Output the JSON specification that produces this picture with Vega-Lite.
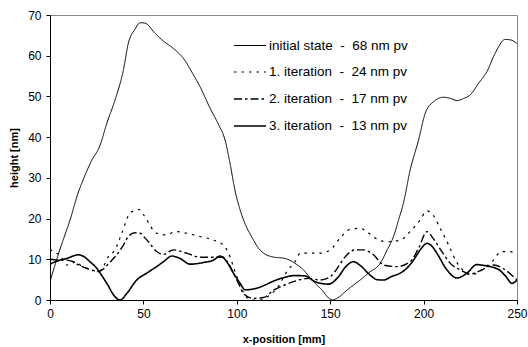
{
  "$schema": "https://vega.github.io/schema/vega-lite/v6.json",
  "width": 467,
  "height": 285,
  "autosize": {"type": "none"},
  "padding": {"left": 50, "top": 15, "right": 11, "bottom": 47},
  "background": "white",
  "config": {
    "font": "Liberation Sans",
    "view": {"stroke": "#888888", "strokeWidth": 1},
    "axis": {"grid": false, "domainColor": "black", "tickColor": "black", "labelColor": "black", "titleColor": "black", "labelFont": "Liberation Sans", "titleFont": "Liberation Sans", "labelFontSize": 12, "titleFontSize": 11, "titleFontWeight": "bold"}
  },
  "datasets": {
    "pts": [
      {"s": "initial state \u00a0-\u00a0 68 nm pv", "x": 0, "y": 4.5},
      {"s": "initial state \u00a0-\u00a0 68 nm pv", "x": 5, "y": 12},
      {"s": "initial state \u00a0-\u00a0 68 nm pv", "x": 10.7, "y": 19.6},
      {"s": "initial state \u00a0-\u00a0 68 nm pv", "x": 15.2, "y": 26.5},
      {"s": "initial state \u00a0-\u00a0 68 nm pv", "x": 18, "y": 29.8},
      {"s": "initial state \u00a0-\u00a0 68 nm pv", "x": 22, "y": 34},
      {"s": "initial state \u00a0-\u00a0 68 nm pv", "x": 26.8, "y": 38},
      {"s": "initial state \u00a0-\u00a0 68 nm pv", "x": 30.4, "y": 43.4},
      {"s": "initial state \u00a0-\u00a0 68 nm pv", "x": 34.8, "y": 49.1},
      {"s": "initial state \u00a0-\u00a0 68 nm pv", "x": 39.3, "y": 56.5},
      {"s": "initial state \u00a0-\u00a0 68 nm pv", "x": 41.9, "y": 63},
      {"s": "initial state \u00a0-\u00a0 68 nm pv", "x": 45.5, "y": 66.5},
      {"s": "initial state \u00a0-\u00a0 68 nm pv", "x": 48.2, "y": 68.1},
      {"s": "initial state \u00a0-\u00a0 68 nm pv", "x": 50.9, "y": 68},
      {"s": "initial state \u00a0-\u00a0 68 nm pv", "x": 56.2, "y": 65.5},
      {"s": "initial state \u00a0-\u00a0 68 nm pv", "x": 60.7, "y": 63.6},
      {"s": "initial state \u00a0-\u00a0 68 nm pv", "x": 66, "y": 61.8},
      {"s": "initial state \u00a0-\u00a0 68 nm pv", "x": 72.3, "y": 58.8},
      {"s": "initial state \u00a0-\u00a0 68 nm pv", "x": 75.9, "y": 56},
      {"s": "initial state \u00a0-\u00a0 68 nm pv", "x": 80.3, "y": 52.4},
      {"s": "initial state \u00a0-\u00a0 68 nm pv", "x": 85.7, "y": 47.1},
      {"s": "initial state \u00a0-\u00a0 68 nm pv", "x": 90.1, "y": 43.2},
      {"s": "initial state \u00a0-\u00a0 68 nm pv", "x": 93.7, "y": 39.3},
      {"s": "initial state \u00a0-\u00a0 68 nm pv", "x": 96.6, "y": 33},
      {"s": "initial state \u00a0-\u00a0 68 nm pv", "x": 99, "y": 27},
      {"s": "initial state \u00a0-\u00a0 68 nm pv", "x": 101.8, "y": 22.1},
      {"s": "initial state \u00a0-\u00a0 68 nm pv", "x": 104.6, "y": 18.5},
      {"s": "initial state \u00a0-\u00a0 68 nm pv", "x": 108, "y": 15.5},
      {"s": "initial state \u00a0-\u00a0 68 nm pv", "x": 111.5, "y": 12.8},
      {"s": "initial state \u00a0-\u00a0 68 nm pv", "x": 115, "y": 11.3},
      {"s": "initial state \u00a0-\u00a0 68 nm pv", "x": 119, "y": 10.6},
      {"s": "initial state \u00a0-\u00a0 68 nm pv", "x": 125.9, "y": 10.2},
      {"s": "initial state \u00a0-\u00a0 68 nm pv", "x": 131.2, "y": 9},
      {"s": "initial state \u00a0-\u00a0 68 nm pv", "x": 135.7, "y": 7.4},
      {"s": "initial state \u00a0-\u00a0 68 nm pv", "x": 140.2, "y": 4.9},
      {"s": "initial state \u00a0-\u00a0 68 nm pv", "x": 145.5, "y": 2.5},
      {"s": "initial state \u00a0-\u00a0 68 nm pv", "x": 150, "y": 0.2},
      {"s": "initial state \u00a0-\u00a0 68 nm pv", "x": 151.5, "y": 0},
      {"s": "initial state \u00a0-\u00a0 68 nm pv", "x": 153.5, "y": 0.4},
      {"s": "initial state \u00a0-\u00a0 68 nm pv", "x": 160, "y": 2.8},
      {"s": "initial state \u00a0-\u00a0 68 nm pv", "x": 166, "y": 4.9},
      {"s": "initial state \u00a0-\u00a0 68 nm pv", "x": 171, "y": 6.8},
      {"s": "initial state \u00a0-\u00a0 68 nm pv", "x": 176.8, "y": 9},
      {"s": "initial state \u00a0-\u00a0 68 nm pv", "x": 180.5, "y": 12.3},
      {"s": "initial state \u00a0-\u00a0 68 nm pv", "x": 183.9, "y": 15.6},
      {"s": "initial state \u00a0-\u00a0 68 nm pv", "x": 186.5, "y": 19.5},
      {"s": "initial state \u00a0-\u00a0 68 nm pv", "x": 189.2, "y": 23.8},
      {"s": "initial state \u00a0-\u00a0 68 nm pv", "x": 192.8, "y": 31.9},
      {"s": "initial state \u00a0-\u00a0 68 nm pv", "x": 197.3, "y": 39.3},
      {"s": "initial state \u00a0-\u00a0 68 nm pv", "x": 200.9, "y": 45.9},
      {"s": "initial state \u00a0-\u00a0 68 nm pv", "x": 205.3, "y": 48.7},
      {"s": "initial state \u00a0-\u00a0 68 nm pv", "x": 210.7, "y": 49.8},
      {"s": "initial state \u00a0-\u00a0 68 nm pv", "x": 214.5, "y": 49.5},
      {"s": "initial state \u00a0-\u00a0 68 nm pv", "x": 217.8, "y": 49},
      {"s": "initial state \u00a0-\u00a0 68 nm pv", "x": 221.5, "y": 49.5},
      {"s": "initial state \u00a0-\u00a0 68 nm pv", "x": 225, "y": 50.4},
      {"s": "initial state \u00a0-\u00a0 68 nm pv", "x": 229.4, "y": 53.2},
      {"s": "initial state \u00a0-\u00a0 68 nm pv", "x": 233.9, "y": 56.1},
      {"s": "initial state \u00a0-\u00a0 68 nm pv", "x": 238.3, "y": 60.6},
      {"s": "initial state \u00a0-\u00a0 68 nm pv", "x": 243.7, "y": 64},
      {"s": "initial state \u00a0-\u00a0 68 nm pv", "x": 246.4, "y": 63.9},
      {"s": "initial state \u00a0-\u00a0 68 nm pv", "x": 250, "y": 63},

      {"s": "1. iteration \u00a0-\u00a0 24 nm pv", "x": 0, "y": 12.4},
      {"s": "1. iteration \u00a0-\u00a0 24 nm pv", "x": 3, "y": 11.6},
      {"s": "1. iteration \u00a0-\u00a0 24 nm pv", "x": 5.4, "y": 11},
      {"s": "1. iteration \u00a0-\u00a0 24 nm pv", "x": 9, "y": 8.6},
      {"s": "1. iteration \u00a0-\u00a0 24 nm pv", "x": 14.3, "y": 9.4},
      {"s": "1. iteration \u00a0-\u00a0 24 nm pv", "x": 17, "y": 8.2},
      {"s": "1. iteration \u00a0-\u00a0 24 nm pv", "x": 22.3, "y": 7.4},
      {"s": "1. iteration \u00a0-\u00a0 24 nm pv", "x": 26, "y": 7},
      {"s": "1. iteration \u00a0-\u00a0 24 nm pv", "x": 28.6, "y": 8.2},
      {"s": "1. iteration \u00a0-\u00a0 24 nm pv", "x": 31.2, "y": 10.6},
      {"s": "1. iteration \u00a0-\u00a0 24 nm pv", "x": 34.8, "y": 12.3},
      {"s": "1. iteration \u00a0-\u00a0 24 nm pv", "x": 38.4, "y": 16.4},
      {"s": "1. iteration \u00a0-\u00a0 24 nm pv", "x": 42.8, "y": 21.3},
      {"s": "1. iteration \u00a0-\u00a0 24 nm pv", "x": 46.4, "y": 22.1},
      {"s": "1. iteration \u00a0-\u00a0 24 nm pv", "x": 48, "y": 22.2},
      {"s": "1. iteration \u00a0-\u00a0 24 nm pv", "x": 50, "y": 21},
      {"s": "1. iteration \u00a0-\u00a0 24 nm pv", "x": 51.8, "y": 19.7},
      {"s": "1. iteration \u00a0-\u00a0 24 nm pv", "x": 57.1, "y": 16.4},
      {"s": "1. iteration \u00a0-\u00a0 24 nm pv", "x": 62.5, "y": 16},
      {"s": "1. iteration \u00a0-\u00a0 24 nm pv", "x": 67, "y": 16.8},
      {"s": "1. iteration \u00a0-\u00a0 24 nm pv", "x": 73.2, "y": 16.4},
      {"s": "1. iteration \u00a0-\u00a0 24 nm pv", "x": 80.3, "y": 15.6},
      {"s": "1. iteration \u00a0-\u00a0 24 nm pv", "x": 87.5, "y": 14.7},
      {"s": "1. iteration \u00a0-\u00a0 24 nm pv", "x": 92.8, "y": 13.5},
      {"s": "1. iteration \u00a0-\u00a0 24 nm pv", "x": 96.4, "y": 10.6},
      {"s": "1. iteration \u00a0-\u00a0 24 nm pv", "x": 99, "y": 7},
      {"s": "1. iteration \u00a0-\u00a0 24 nm pv", "x": 101.8, "y": 3.7},
      {"s": "1. iteration \u00a0-\u00a0 24 nm pv", "x": 105.4, "y": 0.6},
      {"s": "1. iteration \u00a0-\u00a0 24 nm pv", "x": 108.5, "y": 0},
      {"s": "1. iteration \u00a0-\u00a0 24 nm pv", "x": 112.5, "y": 0},
      {"s": "1. iteration \u00a0-\u00a0 24 nm pv", "x": 117, "y": 1},
      {"s": "1. iteration \u00a0-\u00a0 24 nm pv", "x": 122, "y": 3.2},
      {"s": "1. iteration \u00a0-\u00a0 24 nm pv", "x": 126.8, "y": 7},
      {"s": "1. iteration \u00a0-\u00a0 24 nm pv", "x": 131.2, "y": 9.4},
      {"s": "1. iteration \u00a0-\u00a0 24 nm pv", "x": 134, "y": 11.5},
      {"s": "1. iteration \u00a0-\u00a0 24 nm pv", "x": 139.5, "y": 11.5},
      {"s": "1. iteration \u00a0-\u00a0 24 nm pv", "x": 144.6, "y": 11.5},
      {"s": "1. iteration \u00a0-\u00a0 24 nm pv", "x": 150, "y": 12.3},
      {"s": "1. iteration \u00a0-\u00a0 24 nm pv", "x": 155.3, "y": 15.2},
      {"s": "1. iteration \u00a0-\u00a0 24 nm pv", "x": 160.7, "y": 17.4},
      {"s": "1. iteration \u00a0-\u00a0 24 nm pv", "x": 166, "y": 17.6},
      {"s": "1. iteration \u00a0-\u00a0 24 nm pv", "x": 169.6, "y": 16.8},
      {"s": "1. iteration \u00a0-\u00a0 24 nm pv", "x": 174.1, "y": 15.2},
      {"s": "1. iteration \u00a0-\u00a0 24 nm pv", "x": 180.3, "y": 14.3},
      {"s": "1. iteration \u00a0-\u00a0 24 nm pv", "x": 187.5, "y": 14.7},
      {"s": "1. iteration \u00a0-\u00a0 24 nm pv", "x": 192.8, "y": 16.8},
      {"s": "1. iteration \u00a0-\u00a0 24 nm pv", "x": 198.2, "y": 19.7},
      {"s": "1. iteration \u00a0-\u00a0 24 nm pv", "x": 201.8, "y": 21.9},
      {"s": "1. iteration \u00a0-\u00a0 24 nm pv", "x": 205.3, "y": 20.7},
      {"s": "1. iteration \u00a0-\u00a0 24 nm pv", "x": 208.9, "y": 17.6},
      {"s": "1. iteration \u00a0-\u00a0 24 nm pv", "x": 213.4, "y": 13.5},
      {"s": "1. iteration \u00a0-\u00a0 24 nm pv", "x": 217.3, "y": 9.6},
      {"s": "1. iteration \u00a0-\u00a0 24 nm pv", "x": 221, "y": 7.4},
      {"s": "1. iteration \u00a0-\u00a0 24 nm pv", "x": 225, "y": 6.2},
      {"s": "1. iteration \u00a0-\u00a0 24 nm pv", "x": 229.4, "y": 6.8},
      {"s": "1. iteration \u00a0-\u00a0 24 nm pv", "x": 233, "y": 8},
      {"s": "1. iteration \u00a0-\u00a0 24 nm pv", "x": 237.4, "y": 9.8},
      {"s": "1. iteration \u00a0-\u00a0 24 nm pv", "x": 241.5, "y": 11.9},
      {"s": "1. iteration \u00a0-\u00a0 24 nm pv", "x": 246, "y": 11.9},
      {"s": "1. iteration \u00a0-\u00a0 24 nm pv", "x": 250, "y": 11.1},

      {"s": "2. iteration \u00a0-\u00a0 17 nm pv", "x": 0, "y": 10},
      {"s": "2. iteration \u00a0-\u00a0 17 nm pv", "x": 4, "y": 9.8},
      {"s": "2. iteration \u00a0-\u00a0 17 nm pv", "x": 8, "y": 9.8},
      {"s": "2. iteration \u00a0-\u00a0 17 nm pv", "x": 12, "y": 9.5},
      {"s": "2. iteration \u00a0-\u00a0 17 nm pv", "x": 15.2, "y": 8.6},
      {"s": "2. iteration \u00a0-\u00a0 17 nm pv", "x": 19.6, "y": 7.8},
      {"s": "2. iteration \u00a0-\u00a0 17 nm pv", "x": 23.2, "y": 7.2},
      {"s": "2. iteration \u00a0-\u00a0 17 nm pv", "x": 26, "y": 7},
      {"s": "2. iteration \u00a0-\u00a0 17 nm pv", "x": 28.6, "y": 7.6},
      {"s": "2. iteration \u00a0-\u00a0 17 nm pv", "x": 31.5, "y": 9},
      {"s": "2. iteration \u00a0-\u00a0 17 nm pv", "x": 35.7, "y": 11.1},
      {"s": "2. iteration \u00a0-\u00a0 17 nm pv", "x": 39.3, "y": 13.5},
      {"s": "2. iteration \u00a0-\u00a0 17 nm pv", "x": 41.9, "y": 15.6},
      {"s": "2. iteration \u00a0-\u00a0 17 nm pv", "x": 45.5, "y": 16.5},
      {"s": "2. iteration \u00a0-\u00a0 17 nm pv", "x": 48.2, "y": 16.4},
      {"s": "2. iteration \u00a0-\u00a0 17 nm pv", "x": 50.9, "y": 15.2},
      {"s": "2. iteration \u00a0-\u00a0 17 nm pv", "x": 52.7, "y": 14.3},
      {"s": "2. iteration \u00a0-\u00a0 17 nm pv", "x": 57.1, "y": 11.9},
      {"s": "2. iteration \u00a0-\u00a0 17 nm pv", "x": 60.7, "y": 11.2},
      {"s": "2. iteration \u00a0-\u00a0 17 nm pv", "x": 66, "y": 12.3},
      {"s": "2. iteration \u00a0-\u00a0 17 nm pv", "x": 73.2, "y": 11.5},
      {"s": "2. iteration \u00a0-\u00a0 17 nm pv", "x": 80.3, "y": 10.5},
      {"s": "2. iteration \u00a0-\u00a0 17 nm pv", "x": 87.5, "y": 10.5},
      {"s": "2. iteration \u00a0-\u00a0 17 nm pv", "x": 92.8, "y": 10.5},
      {"s": "2. iteration \u00a0-\u00a0 17 nm pv", "x": 95.5, "y": 9},
      {"s": "2. iteration \u00a0-\u00a0 17 nm pv", "x": 98.2, "y": 6.6},
      {"s": "2. iteration \u00a0-\u00a0 17 nm pv", "x": 101, "y": 4},
      {"s": "2. iteration \u00a0-\u00a0 17 nm pv", "x": 103.5, "y": 1.6},
      {"s": "2. iteration \u00a0-\u00a0 17 nm pv", "x": 108.9, "y": 0.4},
      {"s": "2. iteration \u00a0-\u00a0 17 nm pv", "x": 114.3, "y": 0.6},
      {"s": "2. iteration \u00a0-\u00a0 17 nm pv", "x": 119.6, "y": 2.4},
      {"s": "2. iteration \u00a0-\u00a0 17 nm pv", "x": 123.2, "y": 3.2},
      {"s": "2. iteration \u00a0-\u00a0 17 nm pv", "x": 130.3, "y": 4.5},
      {"s": "2. iteration \u00a0-\u00a0 17 nm pv", "x": 138.4, "y": 5.3},
      {"s": "2. iteration \u00a0-\u00a0 17 nm pv", "x": 144.6, "y": 4.9},
      {"s": "2. iteration \u00a0-\u00a0 17 nm pv", "x": 150, "y": 5.7},
      {"s": "2. iteration \u00a0-\u00a0 17 nm pv", "x": 154.4, "y": 8.2},
      {"s": "2. iteration \u00a0-\u00a0 17 nm pv", "x": 158, "y": 10.6},
      {"s": "2. iteration \u00a0-\u00a0 17 nm pv", "x": 163.4, "y": 12.3},
      {"s": "2. iteration \u00a0-\u00a0 17 nm pv", "x": 167.8, "y": 12.3},
      {"s": "2. iteration \u00a0-\u00a0 17 nm pv", "x": 173.2, "y": 11.1},
      {"s": "2. iteration \u00a0-\u00a0 17 nm pv", "x": 178.5, "y": 8.6},
      {"s": "2. iteration \u00a0-\u00a0 17 nm pv", "x": 185.7, "y": 8.2},
      {"s": "2. iteration \u00a0-\u00a0 17 nm pv", "x": 192.8, "y": 9.4},
      {"s": "2. iteration \u00a0-\u00a0 17 nm pv", "x": 197.3, "y": 12.7},
      {"s": "2. iteration \u00a0-\u00a0 17 nm pv", "x": 201.8, "y": 16.8},
      {"s": "2. iteration \u00a0-\u00a0 17 nm pv", "x": 205.3, "y": 15},
      {"s": "2. iteration \u00a0-\u00a0 17 nm pv", "x": 209.8, "y": 11.9},
      {"s": "2. iteration \u00a0-\u00a0 17 nm pv", "x": 214.3, "y": 9},
      {"s": "2. iteration \u00a0-\u00a0 17 nm pv", "x": 219.6, "y": 7.4},
      {"s": "2. iteration \u00a0-\u00a0 17 nm pv", "x": 225, "y": 6.4},
      {"s": "2. iteration \u00a0-\u00a0 17 nm pv", "x": 230.3, "y": 7.2},
      {"s": "2. iteration \u00a0-\u00a0 17 nm pv", "x": 237.4, "y": 8.6},
      {"s": "2. iteration \u00a0-\u00a0 17 nm pv", "x": 243.7, "y": 7.4},
      {"s": "2. iteration \u00a0-\u00a0 17 nm pv", "x": 248.2, "y": 5.7},
      {"s": "2. iteration \u00a0-\u00a0 17 nm pv", "x": 250, "y": 4.9},

      {"s": "3. iteration \u00a0-\u00a0 13 nm pv", "x": 0, "y": 8.8},
      {"s": "3. iteration \u00a0-\u00a0 13 nm pv", "x": 4, "y": 9.6},
      {"s": "3. iteration \u00a0-\u00a0 13 nm pv", "x": 8.9, "y": 10.2},
      {"s": "3. iteration \u00a0-\u00a0 13 nm pv", "x": 15.2, "y": 11.1},
      {"s": "3. iteration \u00a0-\u00a0 13 nm pv", "x": 18, "y": 10.7},
      {"s": "3. iteration \u00a0-\u00a0 13 nm pv", "x": 21.4, "y": 9.4},
      {"s": "3. iteration \u00a0-\u00a0 13 nm pv", "x": 25, "y": 7.8},
      {"s": "3. iteration \u00a0-\u00a0 13 nm pv", "x": 28, "y": 5.8},
      {"s": "3. iteration \u00a0-\u00a0 13 nm pv", "x": 30.4, "y": 4.1},
      {"s": "3. iteration \u00a0-\u00a0 13 nm pv", "x": 34.8, "y": 0.8},
      {"s": "3. iteration \u00a0-\u00a0 13 nm pv", "x": 37.5, "y": 0},
      {"s": "3. iteration \u00a0-\u00a0 13 nm pv", "x": 41.1, "y": 1.6},
      {"s": "3. iteration \u00a0-\u00a0 13 nm pv", "x": 46.4, "y": 4.9},
      {"s": "3. iteration \u00a0-\u00a0 13 nm pv", "x": 51.8, "y": 6.6},
      {"s": "3. iteration \u00a0-\u00a0 13 nm pv", "x": 57.1, "y": 8.2},
      {"s": "3. iteration \u00a0-\u00a0 13 nm pv", "x": 61, "y": 9.5},
      {"s": "3. iteration \u00a0-\u00a0 13 nm pv", "x": 65.2, "y": 10.8},
      {"s": "3. iteration \u00a0-\u00a0 13 nm pv", "x": 69.6, "y": 10.2},
      {"s": "3. iteration \u00a0-\u00a0 13 nm pv", "x": 75, "y": 8.8},
      {"s": "3. iteration \u00a0-\u00a0 13 nm pv", "x": 82.1, "y": 9.2},
      {"s": "3. iteration \u00a0-\u00a0 13 nm pv", "x": 87.5, "y": 9.8},
      {"s": "3. iteration \u00a0-\u00a0 13 nm pv", "x": 91.1, "y": 10.8},
      {"s": "3. iteration \u00a0-\u00a0 13 nm pv", "x": 94.6, "y": 9.4},
      {"s": "3. iteration \u00a0-\u00a0 13 nm pv", "x": 98.2, "y": 6.6},
      {"s": "3. iteration \u00a0-\u00a0 13 nm pv", "x": 101.8, "y": 4.1},
      {"s": "3. iteration \u00a0-\u00a0 13 nm pv", "x": 104.4, "y": 2.5},
      {"s": "3. iteration \u00a0-\u00a0 13 nm pv", "x": 110.7, "y": 2.9},
      {"s": "3. iteration \u00a0-\u00a0 13 nm pv", "x": 115.2, "y": 3.7},
      {"s": "3. iteration \u00a0-\u00a0 13 nm pv", "x": 120, "y": 4.7},
      {"s": "3. iteration \u00a0-\u00a0 13 nm pv", "x": 125.9, "y": 5.6},
      {"s": "3. iteration \u00a0-\u00a0 13 nm pv", "x": 131, "y": 6},
      {"s": "3. iteration \u00a0-\u00a0 13 nm pv", "x": 136.6, "y": 5.9},
      {"s": "3. iteration \u00a0-\u00a0 13 nm pv", "x": 141.9, "y": 4.5},
      {"s": "3. iteration \u00a0-\u00a0 13 nm pv", "x": 149.1, "y": 3.9},
      {"s": "3. iteration \u00a0-\u00a0 13 nm pv", "x": 154.4, "y": 5.7},
      {"s": "3. iteration \u00a0-\u00a0 13 nm pv", "x": 158, "y": 8},
      {"s": "3. iteration \u00a0-\u00a0 13 nm pv", "x": 162.5, "y": 9.4},
      {"s": "3. iteration \u00a0-\u00a0 13 nm pv", "x": 166, "y": 8.5},
      {"s": "3. iteration \u00a0-\u00a0 13 nm pv", "x": 171.4, "y": 6.1},
      {"s": "3. iteration \u00a0-\u00a0 13 nm pv", "x": 175, "y": 5},
      {"s": "3. iteration \u00a0-\u00a0 13 nm pv", "x": 178.5, "y": 4.9},
      {"s": "3. iteration \u00a0-\u00a0 13 nm pv", "x": 183, "y": 5.8},
      {"s": "3. iteration \u00a0-\u00a0 13 nm pv", "x": 187.5, "y": 6.6},
      {"s": "3. iteration \u00a0-\u00a0 13 nm pv", "x": 191, "y": 7.8},
      {"s": "3. iteration \u00a0-\u00a0 13 nm pv", "x": 194.6, "y": 9.8},
      {"s": "3. iteration \u00a0-\u00a0 13 nm pv", "x": 198.5, "y": 12.5},
      {"s": "3. iteration \u00a0-\u00a0 13 nm pv", "x": 201.8, "y": 13.9},
      {"s": "3. iteration \u00a0-\u00a0 13 nm pv", "x": 204.5, "y": 13.2},
      {"s": "3. iteration \u00a0-\u00a0 13 nm pv", "x": 207.1, "y": 11.5},
      {"s": "3. iteration \u00a0-\u00a0 13 nm pv", "x": 212.5, "y": 7.4},
      {"s": "3. iteration \u00a0-\u00a0 13 nm pv", "x": 217.8, "y": 5.4},
      {"s": "3. iteration \u00a0-\u00a0 13 nm pv", "x": 223.2, "y": 6.6},
      {"s": "3. iteration \u00a0-\u00a0 13 nm pv", "x": 228.5, "y": 8.7},
      {"s": "3. iteration \u00a0-\u00a0 13 nm pv", "x": 232, "y": 8.5},
      {"s": "3. iteration \u00a0-\u00a0 13 nm pv", "x": 235.7, "y": 8.2},
      {"s": "3. iteration \u00a0-\u00a0 13 nm pv", "x": 241, "y": 7.2},
      {"s": "3. iteration \u00a0-\u00a0 13 nm pv", "x": 244, "y": 5.8},
      {"s": "3. iteration \u00a0-\u00a0 13 nm pv", "x": 247.3, "y": 4.1},
      {"s": "3. iteration \u00a0-\u00a0 13 nm pv", "x": 250, "y": 4.9}
    ]
  },
  "data": {"name": "pts"},
  "mark": {"type": "line", "color": "black", "interpolate": "monotone", "clip": true},
  "encoding": {
    "x": {"field": "x", "type": "quantitative", "scale": {"domain": [0, 250], "nice": false},
      "axis": {"title": "x-position [mm]", "values": [0, 50, 100, 150, 200, 250], "tickSize": 4, "labelPadding": 4, "titlePadding": 14, "labelFlush": false}},
    "y": {"field": "y", "type": "quantitative", "scale": {"domain": [0, 70], "nice": false},
      "axis": {"title": "height [nm]", "values": [0, 10, 20, 30, 40, 50, 60, 70], "tickSize": 4, "labelPadding": 5, "titlePadding": 8}},
    "strokeDash": {"field": "s", "type": "nominal",
      "scale": {"domain": ["initial state \u00a0-\u00a0 68 nm pv", "1. iteration \u00a0-\u00a0 24 nm pv", "2. iteration \u00a0-\u00a0 17 nm pv", "3. iteration \u00a0-\u00a0 13 nm pv"],
                "range": [[1, 0], [2.5, 5], [8, 3, 2.5, 3], [1, 0]]},
      "legend": {"title": null, "orient": "none", "legendX": 183, "legendY": 14, "symbolType": "stroke", "symbolSize": 1024, "symbolStrokeColor": "black", "labelFontSize": 13.5, "labelFont": "Liberation Sans", "labelColor": "black", "labelOffset": 2, "rowPadding": 3, "padding": 0}},
    "strokeWidth": {"field": "s", "type": "nominal",
      "scale": {"domain": ["initial state \u00a0-\u00a0 68 nm pv", "1. iteration \u00a0-\u00a0 24 nm pv", "2. iteration \u00a0-\u00a0 17 nm pv", "3. iteration \u00a0-\u00a0 13 nm pv"],
                "range": [1, 1.6, 1.6, 2.8]},
      "legend": {"title": null, "orient": "none", "legendX": 183, "legendY": 14, "symbolType": "stroke", "symbolSize": 1024, "symbolStrokeColor": "black", "labelFontSize": 13.5, "labelFont": "Liberation Sans", "labelColor": "black", "labelOffset": 2, "rowPadding": 3, "padding": 0}}
  }
}
